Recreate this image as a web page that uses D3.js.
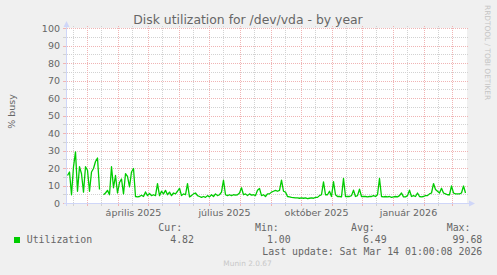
<!DOCTYPE html>
<html>
<head>
<meta charset="utf-8">
<style>
    body { margin: 0; background: #f0f0f0; }
    svg { display: block; }
    text { font-family: "DejaVu Sans", sans-serif; fill: #666; }
    .tick text { font-size: 9.5px; }
    .mono { font-family: "DejaVu Sans Mono", monospace; font-size: 9.9px; }
</style>
<script src="https://cdn.jsdelivr.net/npm/d3@7"></script>
</head>
<body>
<script>
    // one value every 2 days, first sample at dataStart (null = no data)
    var dataStart = new Date(Date.UTC(2025, 1, 9));
    var stepDays = 2;
    var utilization = [
        16, 18, 5, 21, 29.5, 7, 21, 17, 6.5, 21,
        19, 7, 18, 20, 24, 26, 8, null, 5, 6,
        7.5, 5, 21, 9, 16, 6, 12, 14, 5.5, 17,
        15.5, 9.5, 18, 20, 4, 3.8, 4, 4.7, 4, 6.6,
        4.5, 5.7, 4.5, 5, 4.5, 11.4, 4.5, 7, 5.5, 7.5,
        5, 6.5, 4.5, 6, 5.5, 7, 8.7, 4.5, 5.5, 5,
        11.4, 3.8, 4.5, 5.5, 6, 4.5, 4, 3.5, 4, 3.5,
        4.5, 3.8, 5, 4, 5.5, 4.5, 5, 6.5, 13.3, 5,
        4.5, 5, 4.5, 5, 4.8, 5, 6, 9, 5, 5.5,
        4.5, 5.5, 4.8, 5, 4.5, 7.6, 8.6, 4.5, 5, 4,
        5.5, 5.5, 6.5, 7, 7.5, 7, 7.5, 13.3, 7, 6.5,
        4, 3.8, 3.5, 3.4, 3.2, 3.2, 3, 3.2, 3, 3.2,
        2.8, 3, 3.2, 3, 3.5, 3.5, 4.5, 5, 12.4, 5,
        5, 7, 4, 12.5, 5, 4, 4, 3.8, 14.3, 4,
        4, 4, 4.5, 7.6, 4, 4.5, 8.2, 4, 4, 4,
        3.8, 4, 4, 4.5, 4, 5, 14.3, 4, 3.8, 4,
        3.8, 4, 3.5, 3.8, 4, 3.8, 4.5, 6, 3.8, 3.8,
        4.5, 7.6, 4, 4.5, 4, 6, 4, 3.8, 4, 4.5,
        4.5, 5.5, 6, 11.4, 8, 7, 6, 8.7, 6, 5.5,
        5, 5, 10, 6, 5.5, 5.5, 5.5, 6, 10, 6
    ];

    var yTicks = [0, 10, 20, 30, 40, 50, 60, 70, 80, 90, 100];
    var labelMonths = ["2025-04-01", "2025-07-01", "2025-10-01", "2026-01-01"];
    var labelTexts = ["április 2025", "július 2025", "október 2025", "január 2026"];
    var legendHeads = ["Cur:", "Min:", "Avg:", "Max:"];
    var legendValues = ["4.82", "1.00", "6.49", "99.68"];

    var width = 497, height = 275,
        plotL = 66, plotR = 466, plotT = 28, plotB = 203,
        domainStart = new Date(Date.UTC(2025, 1, 8)),
        domainEnd = new Date(Date.UTC(2026, 2, 15));

    var svg = d3.select("body").append("svg")
                .attr("width", width).attr("height", height);

    svg.append("rect").attr("width", width).attr("height", height).attr("fill", "#f0f0f0");
    svg.append("rect")
       .attr("x", plotL + 1).attr("y", plotT)
       .attr("width", plotR - plotL).attr("height", plotB - plotT + 1)
       .attr("fill", "#fff");

    var x = d3.scaleUtc().domain([domainStart, domainEnd]).range([plotL, plotR]);
    var y = d3.scaleLinear().domain([0, 100]).range([plotB, plotT]);

    var px = function(d) { return Math.round(x(d)) + 0.5; },
        py = function(v) { return Math.round(y(v)) + 0.5; };

    var minorCol = "#d2d2d2", majorCol = "#f0b4b4";

    // vertical grid: half-month minor, month major
    var minorX = d3.utcMonth.range(d3.utcMonth.floor(domainStart), domainEnd)
                   .map(function(m) { return d3.utcDay.offset(m, 14); })
                   .filter(function(d) { return d > domainStart && d < domainEnd; });
    var majorX = d3.utcMonth.range(domainStart, domainEnd);
    var minorY = yTicks.slice(0, -1).map(function(v) { return v + 5; });

    var grid = svg.append("g").attr("fill", "none").attr("stroke-width", 1);

    function vlines(dates, col) {
        grid.append("g").selectAll("line").data(dates).enter().append("line")
            .attr("x1", px).attr("x2", px)
            .attr("y1", plotT - 2).attr("y2", plotB + 2)
            .attr("stroke", col).attr("stroke-dasharray", "1,1");
        grid.append("g").selectAll("line").data(dates).enter().append("line")
            .attr("x1", px).attr("x2", px)
            .attr("y1", plotB).attr("y2", plotB + 3)
            .attr("stroke", col);
    }
    function hlines(vals, col) {
        grid.append("g").selectAll("line").data(vals).enter().append("line")
            .attr("y1", py).attr("y2", py)
            .attr("x1", plotL + 1).attr("x2", plotR + 2)
            .attr("stroke", col).attr("stroke-dasharray", "1,1");
        grid.append("g").selectAll("line").data(vals).enter().append("line")
            .attr("y1", py).attr("y2", py)
            .attr("x1", plotL - 3).attr("x2", plotL)
            .attr("stroke", col);
    }
    vlines(minorX, minorCol);
    hlines(minorY, minorCol);
    vlines(majorX, majorCol);
    hlines(yTicks, majorCol);

    // data line
    var points = utilization.map(function(v, i) {
        return { date: d3.utcDay.offset(dataStart, i * stepDays), value: v };
    });
    var line = d3.line()
                 .defined(function(d) { return d.value != null; })
                 .x(function(d) { return x(d.date) + 0.5; })
                 .y(function(d) { return y(d.value) + 0.5; });
    svg.append("path").datum(points)
       .attr("d", line)
       .attr("fill", "none").attr("stroke", "#00cc00")
       .attr("stroke-width", 1.3).attr("stroke-linejoin", "round");

    // axes lines with arrows
    var axisCol = "#cfd6f8";
    svg.append("line").attr("x1", plotL - 2).attr("x2", plotR + 4)
       .attr("y1", plotB + 0.5).attr("y2", plotB + 0.5).attr("stroke", axisCol);
    svg.append("line").attr("x1", plotL + 0.5).attr("x2", plotL + 0.5)
       .attr("y1", plotB + 3).attr("y2", plotT - 5).attr("stroke", axisCol);
    svg.append("path").attr("d", "M" + (plotR + 3) + "," + (plotB - 2.5) + "L" + (plotR + 9) + "," + (plotB + 0.5) + "L" + (plotR + 3) + "," + (plotB + 3.5) + "Z")
       .attr("fill", axisCol);
    svg.append("path").attr("d", "M" + (plotL - 2.5) + "," + (plotT - 1) + "L" + (plotL + 0.5) + "," + (plotT - 7) + "L" + (plotL + 3.5) + "," + (plotT - 1) + "Z")
       .attr("fill", axisCol);

    // tick labels
    var yAxis = svg.append("g").attr("transform", "translate(" + plotL + ",0)")
                   .call(d3.axisLeft(y).tickValues(yTicks).tickSize(0).tickPadding(6));
    yAxis.select(".domain").remove();

    var labelDates = labelMonths.map(function(s) { return d3.utcDay.offset(new Date(s + "T00:00:00Z"), 15); });
    var xAxis = svg.append("g").attr("transform", "translate(0," + plotB + ")")
                   .call(d3.axisBottom(x).tickValues(labelDates).tickSize(0).tickPadding(6)
                         .tickFormat(function(d, i) { return labelTexts[i]; }));
    xAxis.select(".domain").remove();

    // titles
    svg.append("text").attr("x", 248).attr("y", 24)
       .attr("text-anchor", "middle").style("font-size", "12.4px")
       .text("Disk utilization for /dev/vda - by year");

    svg.append("text").attr("transform", "translate(15,111.5) rotate(-90)")
       .attr("text-anchor", "middle").style("font-size", "9.5px")
       .text("% busy");

    svg.append("text").attr("transform", "translate(485,5) rotate(90)")
       .style("font-size", "7.4px").style("fill", "#c4c4c4")
       .text("RRDTOOL / TOBI OETIKER");

    // legend
    svg.append("rect").attr("x", 14).attr("y", 237).attr("width", 6).attr("height", 6)
       .attr("fill", "#00cc00");
    svg.append("text").attr("class", "mono").attr("x", 26.7).attr("y", 243).text("Utilization");

    var headX = [158.3, 255, 351, 446.7],
        valueEndX = [194, 290.7, 386.7, 482.3];
    svg.selectAll(".head").data(legendHeads).enter().append("text")
       .attr("class", "mono head")
       .attr("x", function(d, i) { return headX[i]; }).attr("y", 230.7)
       .text(function(d) { return d; });
    svg.selectAll(".val").data(legendValues).enter().append("text")
       .attr("class", "mono val").attr("text-anchor", "end")
       .attr("x", function(d, i) { return valueEndX[i]; }).attr("y", 243)
       .text(function(d) { return d; });

    svg.append("text").attr("class", "mono").attr("text-anchor", "end")
       .attr("x", 482.3).attr("y", 255.3)
       .text("Last update: Sat Mar 14 01:00:08 2026");

    svg.append("text").attr("x", 247.5).attr("y", 266)
       .attr("text-anchor", "middle").style("font-size", "7.4px").style("fill", "#c8c8c8")
       .text("Munin 2.0.67");
</script>
</body>
</html>
